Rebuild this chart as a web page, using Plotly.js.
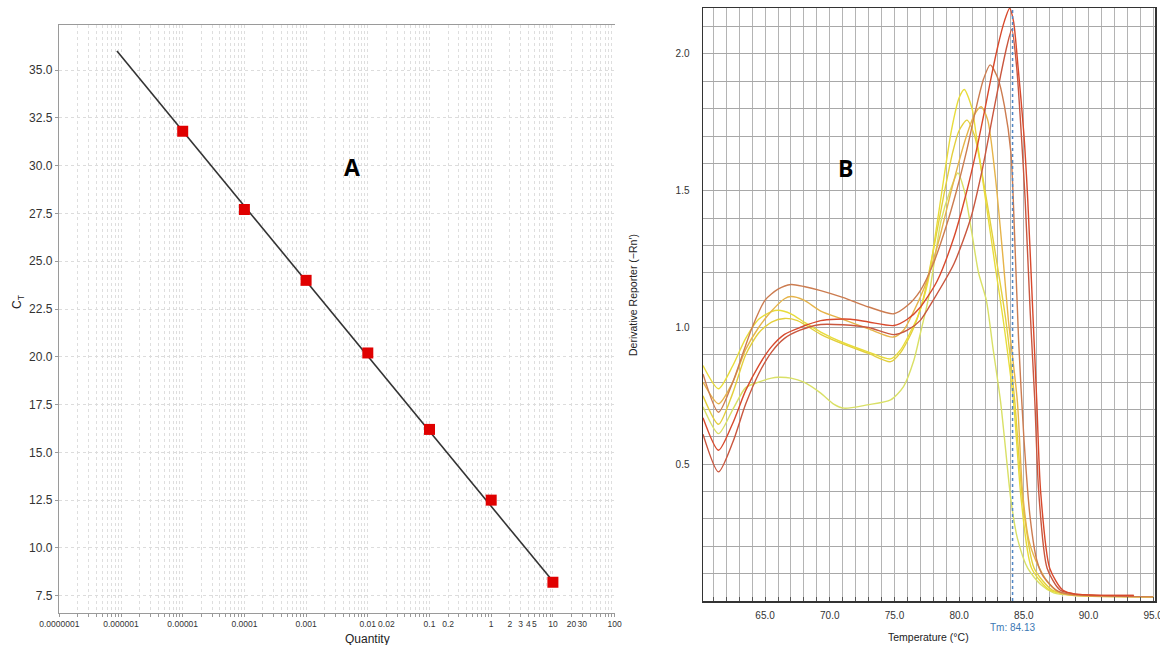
<!DOCTYPE html>
<html>
<head>
<meta charset="utf-8">
<script src="https://cdn.plot.ly/plotly-3.0.1.min.js"></script>
<style>html,body{margin:0;padding:0;background:#fff}#chart{width:1160px;height:645px}</style>
</head>
<body>
<div id="chart"></div>
<script>
// ---------- Panel A: standard curve ----------
const quantity = [1e-5, 1e-4, 1e-3, 1e-2, 1e-1, 1, 10];
const ctValues = [31.8, 27.7, 24.0, 20.2, 16.2, 12.5, 8.2];
const fitQuantity = [8.6e-7, 10];
const fitCt = [36.0, 8.25];
const quantityLabelVals = [1e-7, 1e-6, 1e-5, 1e-4, 1e-3, 0.01, 0.02, 0.1, 0.2, 1, 2, 3, 4, 5, 10, 20, 30, 100];
const quantityLabelText = ['0.0000001', '0.000001', '0.00001', '0.0001', '0.001', '0.01', '0.02', '0.1', '0.2', '1', '2', '3', '4', '5', '10', '20', '30', '100'];
const ctTickVals = [7.5, 10, 12.5, 15, 17.5, 20, 22.5, 25, 27.5, 30, 32.5, 35];

// ---------- Panel B: melt curves ----------
const tmValue = 84.13;
const tempTickVals = [65, 70, 75, 80, 85, 90, 95];
const derivTickVals = [0.5, 1.0, 1.5, 2.0];
const redATemp = [60.2, 61.4, 62.5, 63.5, 64.5, 65.5, 66.5, 67.7, 69.3, 70.5, 71.6, 73.0, 74.95, 76.0, 77.0, 78.3, 79.6, 80.6, 81.3, 82.0, 82.5, 83.0, 83.5, 83.9, 84.2, 84.56, 85.0, 85.3, 85.7, 86.0, 86.3, 87.0, 88.0, 89.0, 93.5];
const redAVal = [0.67, 0.551, 0.65, 0.77, 0.86, 0.93, 0.975, 1.0, 1.025, 1.03, 1.03, 1.02, 1.007, 1.03, 1.074, 1.17, 1.33, 1.50, 1.64, 1.80, 1.92, 2.03, 2.12, 2.167, 2.12, 1.95, 1.71, 1.47, 1.05, 0.73, 0.40, 0.12, 0.04, 0.025, 0.02];
const redBTemp = [60.2, 61.4, 62.5, 63.5, 64.5, 65.5, 66.5, 67.7, 69.3, 71.0, 73.0, 74.95, 76.0, 77.0, 78.0, 79.6, 80.9, 81.8, 82.7, 83.2, 83.7, 84.07, 84.45, 84.8, 85.1, 85.5, 85.85, 86.15, 86.8, 87.8, 89.0, 93.5];
const redBVal = [0.61, 0.472, 0.58, 0.72, 0.83, 0.91, 0.96, 0.99, 1.011, 1.01, 1.0, 0.974, 0.99, 1.026, 1.10, 1.233, 1.40, 1.58, 1.80, 1.92, 2.03, 2.09, 1.95, 1.71, 1.47, 1.05, 0.73, 0.40, 0.12, 0.04, 0.025, 0.02];
const brownTemp = [60.2, 61.4, 62.5, 63.1, 64.0, 65.0, 66.0, 67.0, 68.0, 69.3, 71.0, 73.0, 74.95, 76.0, 77.0, 78.0, 79.0, 79.8, 80.6, 81.3, 81.9, 82.4, 83.0, 83.5, 84.0, 84.3, 84.6, 85.0, 85.5, 86.0, 86.5, 87.5, 88.5, 95.0];
const brownVal = [0.83, 0.69, 0.80, 0.88, 1.0, 1.10, 1.14, 1.157, 1.15, 1.135, 1.11, 1.075, 1.05, 1.08, 1.135, 1.233, 1.37, 1.50, 1.65, 1.80, 1.91, 1.96, 1.91, 1.81, 1.64, 1.32, 0.95, 0.60, 0.30, 0.15, 0.09, 0.04, 0.025, 0.015];
const orangeTemp = [60.2, 61.4, 62.5, 63.5, 64.5, 65.5, 66.5, 67.0, 68.0, 69.3, 71.0, 73.0, 74.9, 75.7, 76.5, 77.5, 78.5, 79.5, 80.5, 81.2, 81.7, 82.2, 82.8, 83.4, 83.8, 84.5, 84.9, 85.4, 86.2, 87.0, 87.8, 89.0, 95.0];
const orangeVal = [0.80, 0.721, 0.80, 0.92, 1.00, 1.06, 1.105, 1.113, 1.10, 1.06, 1.03, 0.995, 0.965, 0.99, 1.06, 1.17, 1.33, 1.52, 1.69, 1.78, 1.807, 1.76, 1.55, 1.25, 1.03, 0.73, 0.40, 0.22, 0.12, 0.06, 0.03, 0.02, 0.015];
const yellowATemp = [60.2, 61.4, 62.5, 63.5, 64.5, 65.5, 66.0, 67.0, 68.0, 69.3, 71.0, 73.0, 74.7, 75.5, 76.2, 76.8, 77.6, 78.2, 78.8, 79.4, 80.0, 80.4, 81.0, 81.3, 82.05, 82.8, 83.4, 84.2, 84.8, 85.6, 87.0, 88.5, 95.0];
const yellowAVal = [0.861, 0.776, 0.86, 0.96, 1.03, 1.058, 1.063, 1.05, 1.02, 0.983, 0.945, 0.91, 0.885, 0.92, 0.98, 1.04, 1.17, 1.35, 1.54, 1.72, 1.84, 1.87, 1.80, 1.71, 1.465, 1.22, 1.03, 0.73, 0.37, 0.12, 0.04, 0.025, 0.015];
const yellowBTemp = [60.2, 61.4, 62.5, 63.5, 64.5, 65.5, 66.5, 67.5, 69.3, 71.0, 73.0, 74.7, 75.5, 76.5, 77.2, 78.0, 78.8, 79.5, 80.0, 80.6, 81.2, 82.0, 82.7, 83.6, 84.3, 84.9, 85.8, 87.2, 88.5, 95.0];
const yellowBVal = [0.75, 0.646, 0.76, 0.90, 0.98, 1.02, 1.033, 1.025, 0.975, 0.94, 0.905, 0.875, 0.91, 1.0, 1.1, 1.28, 1.48, 1.64, 1.72, 1.758, 1.70, 1.50, 1.30, 1.03, 0.73, 0.37, 0.12, 0.04, 0.025, 0.015];
const greenTemp = [60.2, 61.4, 62.5, 63.5, 64.5, 65.5, 66.0, 67.0, 68.0, 69.3, 70.3, 71.1, 72.9, 74.7, 75.7, 76.5, 77.0, 77.6, 78.1, 78.6, 79.3, 79.9, 80.4, 81.0, 81.5, 82.1, 82.6, 83.2, 83.6, 84.0, 84.5, 85.3, 86.3, 87.3, 89.0, 95.0];
const greenVal = [0.71, 0.612, 0.70, 0.78, 0.80, 0.815, 0.818, 0.815, 0.80, 0.76, 0.72, 0.705, 0.717, 0.735, 0.784, 0.88, 0.978, 1.10, 1.245, 1.39, 1.50, 1.565, 1.50, 1.34, 1.20, 1.10, 0.93, 0.73, 0.55, 0.37, 0.23, 0.12, 0.06, 0.03, 0.02, 0.015];

const W = 1160, H = 645;
const px = v => v / W;
const py = v => 1 - v / H;
const FONT = '"Liberation Sans", Arial, sans-serif';

// grid positions for the log axis: every 1..9 multiple of each decade
const gridVals = [], gridText = [];
for (let e = -7; e <= 2; e++) {
  for (let m = 1; m <= 9; m++) {
    if (e === 2 && m > 1) break;
    const v = Number((m * Math.pow(10, e)).toPrecision(3));
    gridVals.push(v);
    const idx = quantityLabelVals.findIndex(q => Math.abs(q - v) / v < 1e-6);
    gridText.push(idx >= 0 ? quantityLabelText[idx] : '');
  }
}

function melt(x, y, color) {
  return {x: x, y: y, xaxis: 'x2', yaxis: 'y2', type: 'scatter', mode: 'lines',
    line: {color: color, width: 1.4, shape: 'spline', smoothing: 0.7}, hoverinfo: 'skip'};
}

const traces = [
  {x: fitQuantity, y: fitCt, type: 'scatter', mode: 'lines', line: {color: '#333333', width: 1.6}, xaxis: 'x', yaxis: 'y'},
  {x: quantity, y: ctValues, type: 'scatter', mode: 'markers', marker: {symbol: 'square', size: 11, color: '#e00000'}, xaxis: 'x', yaxis: 'y'},
  melt(greenTemp, greenVal, '#d9e066'),
  melt(yellowBTemp, yellowBVal, '#e3cf3c'),
  melt(yellowATemp, yellowAVal, '#e8dc3a'),
  melt(orangeTemp, orangeVal, '#e6b44a'),
  melt(brownTemp, brownVal, '#cc7c50'),
  melt(redBTemp, redBVal, '#c9573f'),
  melt(redATemp, redAVal, '#d8492c'),
  {x: [tmValue, tmValue], y: [0, 2.168], xaxis: 'x2', yaxis: 'y2', type: 'scatter', mode: 'lines',
   line: {color: '#4f86c6', width: 1.5, dash: 'dot'}, hoverinfo: 'skip'}
];

function ann(text, x, y, size, extra) {
  return Object.assign({text: text, xref: 'paper', yref: 'paper', x: px(x), y: py(y),
    xanchor: 'center', yanchor: 'middle', showarrow: false, font: {size: size, color: '#222'}}, extra || {});
}

const layout = {
  width: W, height: H,
  margin: {l: 0, r: 0, t: 0, b: 0},
  paper_bgcolor: '#ffffff', plot_bgcolor: '#ffffff',
  showlegend: false,
  font: {family: FONT, color: '#333333'},
  xaxis: {
    type: 'log', domain: [px(59.3), px(614.6)], range: [-7, 2],
    tickvals: gridVals, ticktext: gridText, tickangle: 0, ticklabeloverflow: 'allow',
    showgrid: true, gridcolor: '#dedede', griddash: 'dot', gridwidth: 1,
    showline: true, linecolor: '#9a9a9a', linewidth: 1.5, mirror: true,
    ticks: 'outside', ticklen: 3, tickcolor: '#9a9a9a',
    tickfont: {size: 8.5, color: '#333'}, zeroline: false, anchor: 'y'
  },
  yaxis: {
    domain: [py(612.7), py(25)], range: [6.61, 37.36],
    tickvals: ctTickVals, tickformat: '.1f',
    showgrid: true, gridcolor: '#dcdcdc', griddash: 'dot', gridwidth: 1,
    showline: true, linecolor: '#9a9a9a', linewidth: 1.5,
    ticks: 'outside', ticklen: 3, tickcolor: '#9a9a9a',
    tickfont: {size: 12, color: '#333'}, zeroline: false, anchor: 'x'
  },
  xaxis2: {
    domain: [px(703), px(1155)], range: [60.2, 95.14],
    tickvals: tempTickVals, tickformat: '.1f', ticklabeloverflow: 'allow',
    showgrid: true, gridcolor: '#b4b4b4', gridwidth: 1,
    minor: {dtick: 1, tick0: 60, showgrid: true, gridcolor: '#b4b4b4', gridwidth: 1, ticks: 'inside', ticklen: 4, tickcolor: '#555'},
    showline: true, linecolor: '#333333', linewidth: 1.5, mirror: true,
    ticks: 'outside', ticklen: 4, tickcolor: 'rgba(0,0,0,0)',
    tickfont: {size: 10, color: '#333'}, zeroline: false, anchor: 'y2'
  },
  yaxis2: {
    domain: [py(601), py(8)], range: [0, 2.168],
    tickvals: derivTickVals, tickformat: '.1f',
    showgrid: true, gridcolor: '#a8a8a8', gridwidth: 1,
    minor: {dtick: 0.1, tick0: 0, showgrid: true, gridcolor: '#a8a8a8', gridwidth: 1},
    showline: true, linecolor: '#333333', linewidth: 1.5, mirror: true,
    ticks: 'outside', ticklen: 10, tickcolor: 'rgba(0,0,0,0)',
    tickfont: {size: 10, color: '#333'}, zeroline: false, anchor: 'x2'
  },
  annotations: [
    ann('Quantity', 367, 639, 12),
    ann('C<sub>T</sub>', 18, 302, 12, {textangle: -90}),
    ann('<b>A</b>', 352, 167, 23, {font: {size: 23, color: '#000', family: '"Open Sans", sans-serif'}}),
    ann('<b>B</b>', 845, 168, 23, {font: {size: 23, color: '#000', family: '"Open Sans", sans-serif'}}),
    ann('Temperature (°C)', 928, 637, 10.5),
    ann('Derivative Reporter (−Rn′)', 633, 295, 10.5, {textangle: -90}),
    {text: 'Tm: ' + tmValue.toFixed(2), xref: 'x2', yref: 'paper', x: tmValue, y: py(627), xanchor: 'center', yanchor: 'middle',
     showarrow: false, font: {size: 10, color: '#3c78b4'}}
  ]
};

Plotly.newPlot('chart', traces, layout, {displayModeBar: false, staticPlot: true});
</script>
</body>
</html>
